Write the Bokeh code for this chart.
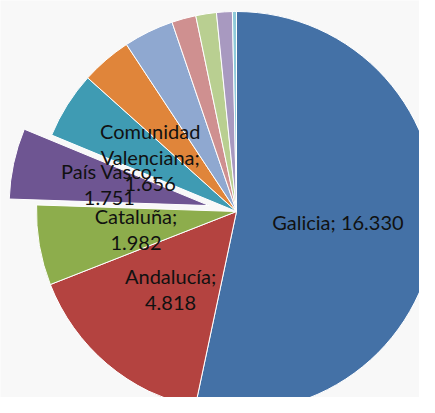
import math
from bokeh.plotting import figure
from bokeh.models import Range1d, ColumnDataSource
from bokeh.core.properties import value
from bokeh.embed import file_html
from bokeh.resources import INLINE

# Data (values in units; labels shown as Spanish thousands format)
regions = ["Galicia", "Andalucía", "Cataluña", "País Vasco", "Comunidad Valenciana",
           "Principado de Asturias", "Cantabria", "Canarias", "Islas Baleares",
           "Región de Murcia", "Resto"]
values = [16330, 4818, 1982, 1751, 1656, 1250, 1240, 600, 510, 390, 100]
labelled = [True, True, True, True, True, False, False, False, False, False, False]
label_names = ["Galicia", "Andalucía;", "Cataluña;", "País Vasco;", "Comunidad\nValenciana;",
               "", "", "", "", "", ""]
colors = ["#4471A6", "#B44340", "#8DAD4C", "#6E5592", "#3F9BB3", "#E0853A",
          "#8FA8D0", "#CF9090", "#B9CF91", "#A899C0", "#8FCBDA"]
explode = [0, 0, 0, 28, 0, 0, 0, 0, 0, 0, 0]

W, H = 419, 397
CX, CY, R = 236, 186, 200
LABEL_R = 0.51 * R

total = sum(values)
starts, ends, xs, ys, lx, ly, texts = [], [], [], [], [], [], []
cum = 0.0
for i, v in enumerate(values):
    a0 = cum / total * 2 * math.pi
    cum += v
    a1 = cum / total * 2 * math.pi
    mid = (a0 + a1) / 2
    # clockwise from top
    ux, uy = math.sin(mid), math.cos(mid)
    cx = CX + explode[i] * ux
    cy = CY + explode[i] * uy
    xs.append(cx); ys.append(cy)
    starts.append(math.pi / 2 - a0)
    ends.append(math.pi / 2 - a1)
    if labelled[i]:
        lx.append(cx + LABEL_R * ux)
        ly.append(cy + LABEL_R * uy)
        num = f"{v:,}".replace(",", ".")
        if regions[i] == "Galicia":
            texts.append(f"{label_names[i]}; {num}")
        else:
            texts.append(f"{label_names[i]}\n{num}")

src = ColumnDataSource(dict(x=xs, y=ys, start=starts, end=ends, color=colors, region=regions, v=values))

p = figure(width=W, height=H, x_range=Range1d(0, W), y_range=Range1d(0, H),
           output_backend="svg", toolbar_location=None, min_border=0)
p.axis.visible = False
p.grid.visible = False
p.outline_line_color = None
p.background_fill_color = "#F8F8F8"
p.border_fill_color = "#F8F8F8"

p.wedge(x="x", y="y", radius=R, start_angle="start", end_angle="end", direction="clock",
        fill_color="color", line_color="white", line_width=1, source=src)

p.text(x=lx, y=ly, text=texts, text_align="center", text_baseline="middle",
       text_font=value("Lato"), text_font_size="20px", text_color="#111111",
       text_line_height=1.08)

open("out.html", "w").write(file_html(p, INLINE))
